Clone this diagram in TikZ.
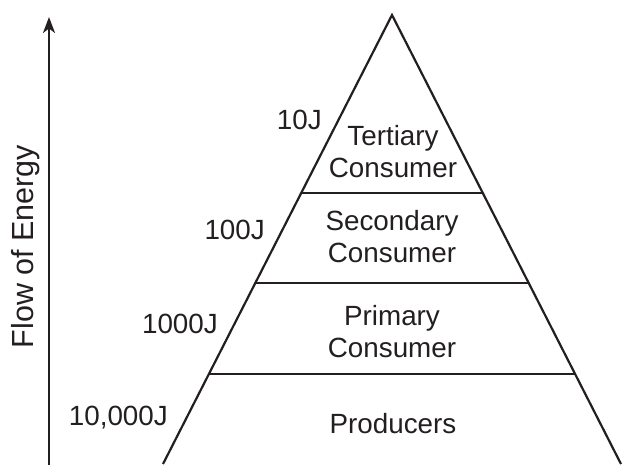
\documentclass[tikz,border=0pt]{standalone}
\usepackage{fontspec}
\setmainfont{Liberation Sans}
\usetikzlibrary{arrows.meta}
\definecolor{ink}{HTML}{231F20}
\tikzset{
  edge/.style={draw=ink, line width=2.2pt},
  lab/.style={font=\fontsize{27.8}{32}\selectfont, text=ink, inner sep=0pt},
  layer/.style={lab, align=center},
}
\begin{document}
\begin{tikzpicture}[x=1pt, y=-1pt]
\useasboundingbox (0,0) rectangle (622,464);
% pyramid geometry (half-width = 0.51 * depth below apex)
\coordinate (apex) at (392,15);
\coordinate (bl) at (163,464);
\coordinate (br) at (621,464);
\coordinate (l1) at (301.2,193); \coordinate (r1) at (482.8,193);
\coordinate (l2) at (255.3,283); \coordinate (r2) at (528.7,283);
\coordinate (l3) at (208.9,374); \coordinate (r3) at (575.1,374);
\draw[edge, line join=miter] (bl) -- (apex) -- (br);
\draw[edge] (l1) -- (r1);
\draw[edge] (l2) -- (r2);
\draw[edge] (l3) -- (r3);
% layer labels
\node[layer] (tert) at (393,151.5) {Tertiary\\Consumer};
\node[layer] (sec) at (392,236.5) {Secondary\\Consumer};
\node[layer] (prim) at (392,331.5) {Primary\\Consumer};
\node[lab, anchor=base] (prod) at (393,433) {Producers};
% energy labels
\node[lab, anchor=base east] (e1) at (322,129) {10J};
\node[lab, anchor=base east] (e2) at (265,239) {100J};
\node[lab, anchor=base east] (e3) at (218,333) {1000J};
\node[lab, anchor=base east] (e4) at (168,425) {10,000J};
% flow arrow
\coordinate (abot) at (49,466);
\coordinate (atop) at (49,17);
\draw[edge, -{Stealth[length=16pt, width=12pt, inset=4.5pt]}] (abot) -- (atop);
\node[font=\fontsize{30.5}{36}\selectfont, text=ink, inner sep=0pt, rotate=90, anchor=base] (flow) at (33,246.5) {Flow of Energy};
\end{tikzpicture}
\end{document}
